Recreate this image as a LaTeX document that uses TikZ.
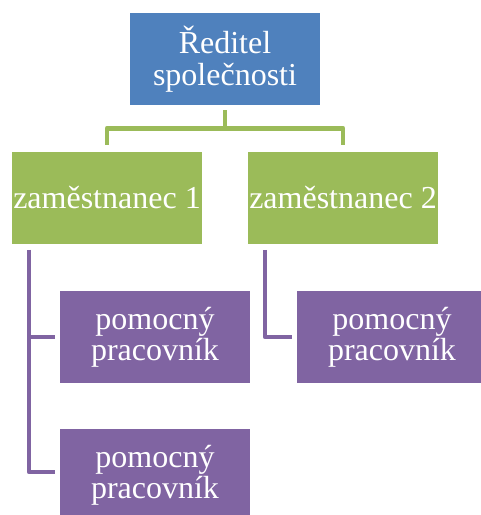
\documentclass[tikz,border=0pt]{standalone}
\usepackage{fontspec}
\setmainfont{Liberation Serif}
\usepackage{xcolor}
\usepackage{tikz}
\usetikzlibrary{positioning}

\definecolor{dirblue}{HTML}{4F81BD}
\definecolor{empgreen}{HTML}{9BBB59}
\definecolor{auxpurple}{HTML}{8064A2}

\begin{document}
\begin{tikzpicture}[x=0.75pt, y=-0.75pt,
        block/.style={rectangle, text=white, align=center, inner xsep=0pt,
          minimum width=142.5pt, minimum height=69pt,
          font=\fontsize{24}{23.5}\selectfont},
        link/.style={line width=3.6pt, line join=round}]

        \clip (0,0) rectangle (481,515);

        \node[block, fill=dirblue] (dir) at (225,59) {Ředitel\\společnosti};
        \node[block, fill=empgreen] (emp1) at (107,197.5) {zaměstnanec 1};
        \node[block, fill=empgreen] (emp2) at (343,197.5) {zaměstnanec 2};
        \node[block, fill=auxpurple] (aux1) at (155,337) {pomocný\\pracovník};
        \node[block, fill=auxpurple] (aux2) at (155,475) {pomocný\\pracovník};
        \node[block, fill=auxpurple] (aux3) at (392,337) {pomocný\\pracovník};

        % green fork
        \draw[link, empgreen] ([shift={(0,5)}]dir.south) -- ++(0,18) -| ([shift={(0,-6)}]emp1.north);
        \draw[link, empgreen] ([shift={(0,5)}]dir.south) -- ++(0,18) -| ([shift={(0,-6)}]emp2.north);

        % purple branches
        \draw[link, auxpurple] ([shift={(-78,6)}]emp1.south) |- ([shift={(-5,0)}]aux1.west);
        \draw[link, auxpurple] ([shift={(-78,6)}]emp1.south) |- ([shift={(-5,-3)}]aux2.west);
        \draw[link, auxpurple] ([shift={(-78,6)}]emp2.south) |- ([shift={(-5,0)}]aux3.west);
      \end{tikzpicture}
\end{document}
